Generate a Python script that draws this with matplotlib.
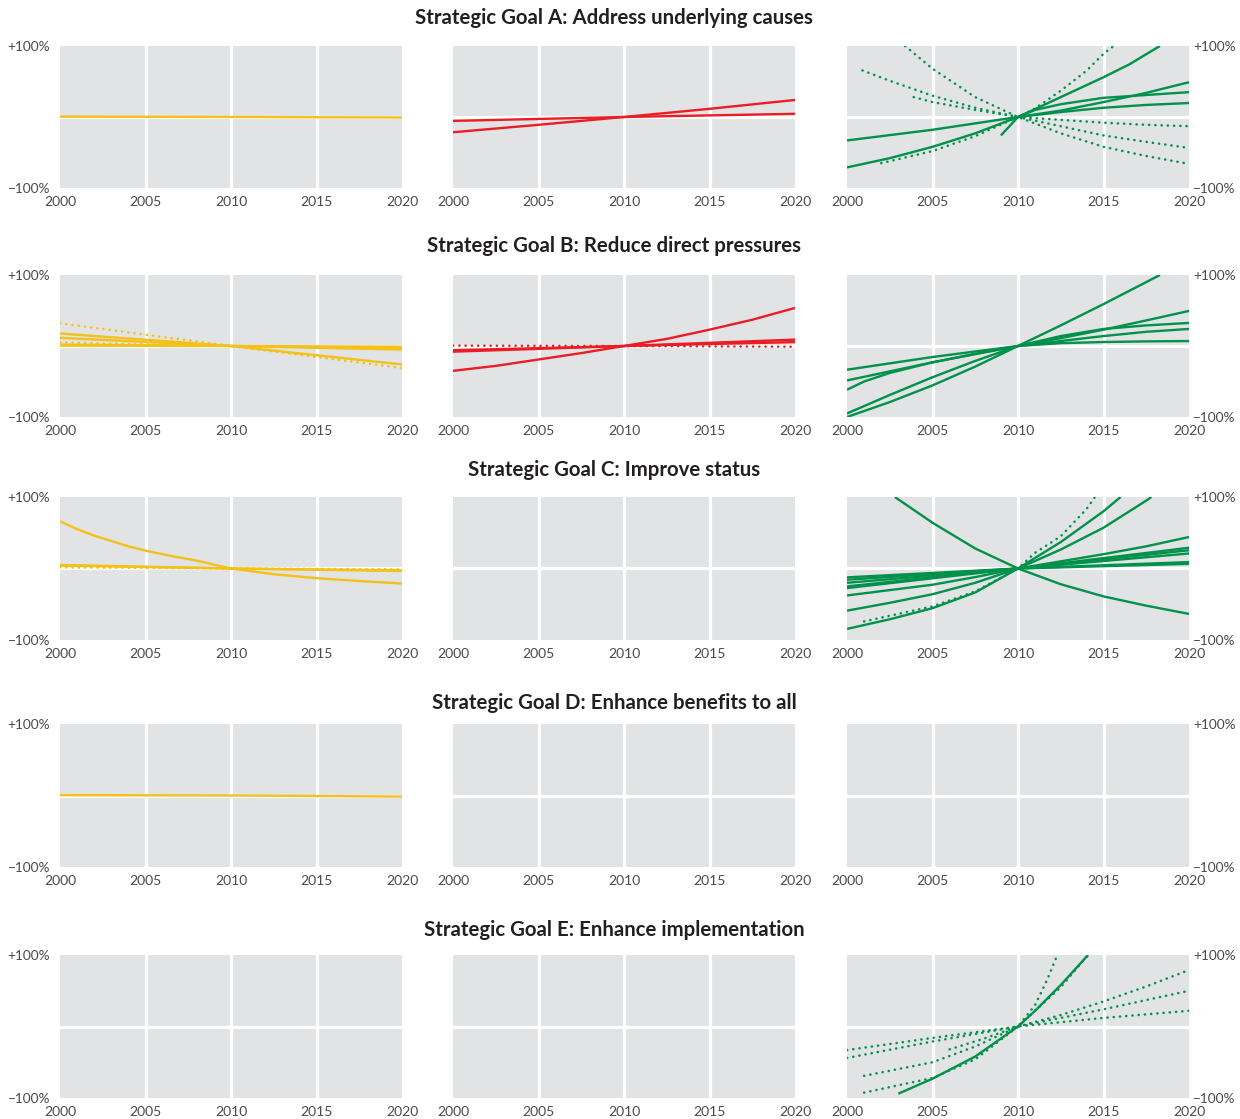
import matplotlib
matplotlib.use("Agg")
import matplotlib.pyplot as plt

plt.rcParams['font.family'] = ['Lato', 'DejaVu Sans']

########################################################################
### Data: % change relative to 2010
########################################################################
YEAR_TICKS = [2000, 2005, 2010, 2015, 2020]

GOAL_TITLES = ["Strategic Goal A: Address underlying causes",
               "Strategic Goal B: Reduce direct pressures",
               "Strategic Goal C: Improve status",
               "Strategic Goal D: Enhance benefits to all",
               "Strategic Goal E: Enhance implementation"]

### Goal A
goalA_yellow_solid = [([2000, 2010, 2020], [0.5, 0, -0.7])]
goalA_yellow_dotted = []
goalA_red_solid = [([2000, 2010, 2020], [-5.5, 0, 4.5]),
                   ([2000, 2005, 2010, 2015, 2020], [-21.5, -11, 0, 11.5, 24])]
goalA_red_dotted = []
goalA_green_solid = [
    ([2000, 2005, 2010, 2012.5, 2015, 2017.5, 2020], [-33, -18, 0, 7, 13, 17, 19.7]),
    ([2000, 2002.5, 2005, 2007.5, 2010, 2012.5, 2015, 2016.5, 2018.3], [-71, -58, -42, -23, 0, 28, 56, 74, 100]),
    ([2009, 2010, 2011, 2012.5, 2015, 2017.5, 2020], [-26, 0, 10, 18, 27, 31, 35]),
    ([2010, 2012.5, 2015, 2017.5, 2020], [0, 9, 21, 34, 49]),
]
goalA_green_dotted = [
    ([2003.4, 2005, 2007.5, 2010, 2012.5, 2015, 2017.5, 2020], [100, 68, 28, 0, -23, -42, -55, -66]),
    ([2000.9, 2002.5, 2005, 2007.5, 2010, 2012.5, 2015, 2017.5, 2020], [65.6, 51, 30, 13, 0, -13, -26, -35, -43.6]),
    ([2003.9, 2005, 2007.5, 2010, 2012.5, 2015, 2017.5, 2020], [28, 21, 10, 0, -4, -8, -11, -13]),
    ([2002, 2005, 2007.5, 2010, 2011, 2012.5, 2014, 2015, 2015.6], [-65, -48, -27, 0, 12, 37, 65, 89, 100]),
]

### Goal B
goalB_yellow_solid = [([2000, 2010, 2020], [17.6, 0, -26]),
                      ([2000, 2010, 2020], [11.5, 0, -3]),
                      ([2000, 2010, 2020], [2, 0, -5]),
                      ([2000, 2010, 2020], [0.5, 0, -1])]
goalB_yellow_dotted = [([2000, 2010, 2020], [32, 0, -31]),
                       ([2000, 2010, 2020], [5, 0, -4])]
goalB_red_solid = [
    ([2000, 2002.5, 2005, 2007.5, 2010, 2012.5, 2015, 2017.5, 2020], [-35, -28, -19, -10, 0, 10, 23, 37, 53.6]),
    ([2000, 2010, 2020], [-8, 0, 9]),
    ([2000, 2010, 2020], [-6, 0, 5.5]),
]
goalB_red_dotted = [([2000, 2010, 2020], [0.5, 0, -1])]
goalB_green_solid = [
    ([2000, 2002.5, 2005, 2007.5, 2010, 2012.5, 2015, 2017.5, 2018.3], [-100, -79, -55.5, -29, 0, 29, 59, 90, 100]),
    ([2000, 2002.5, 2005, 2007.5, 2010, 2012.5, 2015, 2017.5, 2020], [-95, -69, -44, -21, 0, 11, 23, 36, 49.4]),
    ([2000, 2001, 2002.5, 2005, 2007.5, 2010, 2012.5, 2015, 2017.5, 2020], [-61.6, -50, -38, -23, -11, 0, 14, 24, 29, 32.5]),
    ([2000, 2005, 2010, 2012.5, 2015, 2017.5, 2020], [-48.5, -23, 0, 7, 14, 20, 24]),
    ([2000, 2005, 2010, 2012.5, 2015, 2017.5, 2020], [-33.4, -15.5, 0, 4, 5.6, 6.5, 7]),
]
goalB_green_dotted = []

### Goal C
goalC_yellow_solid = [
    ([2000, 2001, 2002, 2003, 2004, 2005, 2006.5, 2008, 2010, 2012.5, 2015, 2017.5, 2020],
     [66, 55, 46, 38.5, 31, 25, 17.5, 11, 0, -8, -13.5, -17.5, -21]),
    ([2000, 2010, 2020], [5, 0, -3.5]),
    ([2000, 2010, 2020], [4, 0, -2.5]),
]
goalC_yellow_dotted = [([2000, 2010, 2020], [1.5, 0, -1])]
goalC_red_solid = []
goalC_red_dotted = []
goalC_green_solid = [
    ([2002.8, 2005, 2007.5, 2010, 2012.5, 2015, 2017.5, 2020], [100, 64, 28, 0, -22, -39, -52, -63.5]),
    ([2000, 2002.5, 2005, 2007.5, 2010, 2012.5, 2015, 2016], [-84.5, -71, -55.5, -33.5, 0, 37, 80, 100]),
    ([2000, 2002.5, 2005, 2007.5, 2010, 2012.5, 2015, 2017.5, 2017.8], [-59, -48, -36, -20, 0, 26.5, 57, 95, 100]),
    ([2000, 2005, 2007.5, 2010, 2012.5, 2015, 2017.5, 2020], [-37.7, -22.7, -12, 0, 10, 20, 31, 44]),
    ([2000, 2010, 2020], [-12.4, 0, 6.5]),
    ([2000, 2010, 2020], [-15.7, 0, 9]),
    ([2000, 2010, 2020], [-20, 0, 21]),
    ([2000, 2010, 2020], [-25, 0, 25.5]),
    ([2000, 2010, 2020], [-27.4, 0, 29]),
]
goalC_green_dotted = [
    ([2001, 2005, 2007.5, 2010, 2011, 2012.5, 2014, 2014.5], [-74, -53, -32, 0, 22, 45, 83, 100]),
]

### Goal D
goalD_yellow_solid = [([2000, 2010, 2020], [0.5, 0, -1.5])]
goalD_yellow_dotted = []

### Goal E
goalE_green_solid = [
    ([2003, 2005, 2007.5, 2010, 2011, 2012.5, 2014.1], [-94, -73, -42, 0, 22, 58, 100]),
]
goalE_green_dotted = [
    ([2000, 2005, 2010, 2015, 2020], [-33, -16, 0, 12, 22]),
    ([2000, 2005, 2010, 2015, 2020], [-44, -21, 0, 24, 50]),
    ([2001, 2005, 2007.5, 2010, 2012.5, 2015, 2017.5, 2020], [-69, -50, -28, 0, 16, 35, 56, 79]),
    ([2001, 2005, 2007.5, 2010, 2012.5, 2014.1], [-92.5, -72, -46, 0, 55, 100]),
    ([2006, 2008, 2010, 2011, 2011.7, 2012.3], [-32, -17, 0, 30, 65, 100]),
]

########################################################################
### Styling / layout
########################################################################
YELLOW = '#f4c118'
RED = '#ec1c24'
GREEN = '#00914a'
PANEL_BG = '#e2e3e5'
TEXT = '#4a4a4a'

W, H = 1240, 1119
COL_X = [(60, 402), (453, 795), (847, 1189)]
ROW_Y = [(46, 188), (275, 417), (497, 640), (724, 867), (955, 1098)]
TITLE_Y = [18, 246, 470, 703, 930]

### rows of (solid, dotted, colour) per column
PANELS = [
    [(goalA_yellow_solid, goalA_yellow_dotted, YELLOW), (goalA_red_solid, goalA_red_dotted, RED), (goalA_green_solid, goalA_green_dotted, GREEN)],
    [(goalB_yellow_solid, goalB_yellow_dotted, YELLOW), (goalB_red_solid, goalB_red_dotted, RED), (goalB_green_solid, goalB_green_dotted, GREEN)],
    [(goalC_yellow_solid, goalC_yellow_dotted, YELLOW), (goalC_red_solid, goalC_red_dotted, RED), (goalC_green_solid, goalC_green_dotted, GREEN)],
    [(goalD_yellow_solid, goalD_yellow_dotted, YELLOW), ([], [], RED), ([], [], GREEN)],
    [([], [], YELLOW), ([], [], RED), (goalE_green_solid, goalE_green_dotted, GREEN)],
]


def drawPanel(ax, solid, dotted, color, col):
    ax.set_facecolor(PANEL_BG)
    for s in ax.spines.values():
        s.set_visible(False)
    for yr in YEAR_TICKS[1:-1]:
        ax.axvline(yr, color='white', lw=2.3, zorder=1)
    ax.axhline(0, color='white', lw=2.3, zorder=1)

    for years, vals in solid:
        ax.plot(years, vals, color=color, lw=1.7, solid_capstyle='butt',
                solid_joinstyle='round', zorder=3)
    for years, vals in dotted:
        ax.plot(years, vals, color=color, lw=1.8, linestyle=(0, (0.1, 2.4)),
                dash_capstyle='round', zorder=3)

    ax.set_xlim(2000, 2020)
    ax.set_ylim(-100, 100)
    ax.set_xticks(YEAR_TICKS)
    ax.set_xticklabels([str(y) for y in YEAR_TICKS])
    ax.tick_params(axis='x', length=0, pad=6, labelsize=10, labelcolor=TEXT)

    ax.set_yticks([-100, 100])
    ax.set_yticklabels(['\u2212100%', '+100%'])
    if col == 0:
        ax.tick_params(axis='y', length=0, pad=7, labelsize=9.8, labelcolor=TEXT)
    elif col == 2:
        ax.yaxis.tick_right()
        ax.tick_params(axis='y', length=0, pad=3, labelsize=9.8, labelcolor=TEXT)
    else:
        ax.tick_params(axis='y', length=0, labelleft=False)


def goalsPlot():
    fig = plt.figure(figsize=(W / 100, H / 100), dpi=100)
    for r, row in enumerate(PANELS):
        y0, y1 = ROW_Y[r]
        for c, (solid, dotted, color) in enumerate(row):
            x0, x1 = COL_X[c]
            ax = fig.add_axes([x0 / W, 1 - y1 / H, (x1 - x0) / W, (y1 - y0) / H])
            drawPanel(ax, solid, dotted, color, c)
        fig.text(614 / W, 1 - TITLE_Y[r] / H, GOAL_TITLES[r], ha='center', va='center',
                 fontsize=14.7, fontweight='bold', color='#231f20')
    fig.savefig('out.png', dpi=100, facecolor='white')


if __name__ == "__main__":
    goalsPlot()
